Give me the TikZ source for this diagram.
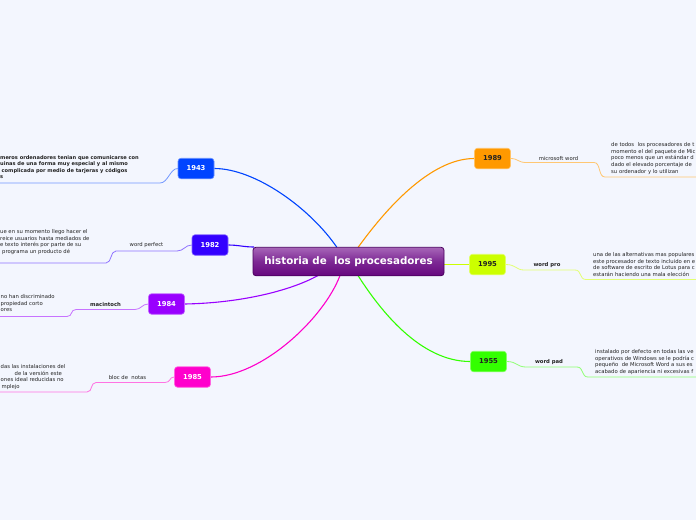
\documentclass[tikz,border=0pt]{standalone}
\usepackage{fontspec}
\setmainfont{DejaVu Sans}
\usetikzlibrary{calc}
\definecolor{bgc}{HTML}{F3F6FE}
\definecolor{cA}{HTML}{0044FF}
\definecolor{cB}{HTML}{3300FF}
\definecolor{cC}{HTML}{9900FF}
\definecolor{cD}{HTML}{FF00CC}
\definecolor{cE}{HTML}{FF9900}
\definecolor{cF}{HTML}{CCFF00}
\definecolor{cG}{HTML}{33FF00}
\definecolor{ctop}{HTML}{A766B8}
\definecolor{cmid}{HTML}{7D2894}
\definecolor{cbot}{HTML}{66077E}
\definecolor{cbord}{HTML}{4A005E}
\definecolor{txt}{HTML}{222222}
\pgfdeclarelayer{back}
\pgfdeclarelayer{edges}
\pgfsetlayers{back,edges,main}
\tikzset{
  yearbox/.style={rounded corners=3pt, minimum width=36pt, minimum height=20.5pt, inner sep=0pt,
    font=\fontsize{6.8}{8}\selectfont\bfseries, draw=#1!60!white, fill=#1, line width=0.6pt},
  lbl/.style={font=\fontsize{5.3}{6.5}\selectfont, text=txt, inner sep=0pt},
  blbl/.style={font=\fontsize{5.3}{6.5}\selectfont\bfseries, text=txt, inner sep=0pt},
  tblock/.style={font=\fontsize{5.3}{6.6}\selectfont, text=txt, inner sep=0pt, align=left, anchor=north west},
  mainedge/.style={draw=#1, line width=1.1pt},
  subedge/.style={draw=#1!55!white, line width=0.8pt},
}
\begin{document}
\begin{tikzpicture}[x=1pt,y=-1pt]
\begin{pgfonlayer}{back}
\fill[bgc] (0,0) rectangle (696,520);
\end{pgfonlayer}
\useasboundingbox (0,0) rectangle (696,520);
\clip (0,0) rectangle (696,520);

% central node
\node[rounded corners=3pt, draw=cbord, line width=0.8pt, top color=ctop, bottom color=cbot, middle color=cmid,
  minimum width=191pt, minimum height=28.5pt, inner sep=0pt, text=white,
  font=\fontsize{10.3}{12}\selectfont\bfseries] (c) at (348.5,261.5) {historia de\ \ los procesadores};

% year boxes
\node[yearbox=cA, text=white] (n43) at (196,168.5) {1943};
\node[yearbox=cB, text=white] (n82) at (210,245) {1982};
\node[yearbox=cC, text=white] (n84) at (166.5,304) {1984};
\node[yearbox=cD, text=white] (n85) at (192.5,377) {1985};
\node[yearbox=cE, text=txt] (n89) at (492.5,158.5) {1989};
\node[yearbox=cF, text=txt] (n95) at (487.5,264.5) {1995};
\node[yearbox=cG, text=txt] (n55) at (488.5,361.5) {1955};

% labels
\node[lbl] (l82) at (146.5,245.5) {word perfect};
\node[blbl] (l84) at (105.5,304.5) {macintoch};
\node[lbl] (l85) at (127.5,377.5) {bloc de\ \ notas};
\node[lbl] (l89) at (558.5,158.5) {microsoft word};
\node[blbl] (l95) at (547,265.5) {word pro};
\node[blbl] (l55) at (549,362.5) {word pad};

% text blocks
\node[tblock, font=\fontsize{5.1}{6.4}\selectfont\bfseries] (t43) at (0,155.2)
  {meros ordenadores tenian que comunicarse con\\uinas de una forma muy especial y al mismo\\\hspace*{1.5pt}complicada por medio de tarjeras y códigos\\s};
\node[tblock] (t82) at (0,229.3)
  {ue en su momento llego hacer el\\reice usuarios hasta mediados de\\e texto interés por parte de su\\\hspace*{2pt}programa un producto dé};
\node[tblock] (t84) at (0.5,294.4)
  {no han discriminado\\propiedad corto\\ores};
\node[tblock] (t85) at (0.5,364.4)
  {das las instalaciones del\\\hspace*{14pt}de la versión este\\ones ideal reducidas no\\\hspace*{1pt}mplejo};
\node[tblock] (t89) at (611,142.4)
  {de todos\ \ los procesadores de t\\momento el del paquete de Mic\\poco menos que un estándar d\\dado el elevado porcentaje de\\su ordenador y lo utilizan};
\node[tblock] (t95) at (593,252.4)
  {una de las alternativas mas populares\\este procesador de texto incluido en e\\de software de escrito de Lotus para c\\estarán haciendo una mala elección};
\node[tblock] (t55) at (595,349.4)
  {instalado por defecto en todas las ve\\operativos de Windows se le podría c\\pequeño\ \ de Microsoft Word a sus es\\acabado de apariencia ni excesivas f};

% anchor coordinates on central node edge
\coordinate (e43) at (337,247.5);
\coordinate (e82) at (254,247);
\coordinate (e84) at (318,275.5);
\coordinate (e85) at (340,275.5);
\coordinate (e89) at (358,247.5);
\coordinate (e55) at (358,275.5);

% underline coordinates
\coordinate (u43a) at (160,183); \coordinate (u43b) at (0,183);
\coordinate (u82a) at (177,251); \coordinate (u82b) at (116,251); \coordinate (u82c) at (106,263); \coordinate (u82d) at (0,263);
\coordinate (u84a) at (135,309.5); \coordinate (u84b) at (76,309.5); \coordinate (u84c) at (67,316.5); \coordinate (u84d) at (0,316.5);
\coordinate (u85a) at (165,382.5); \coordinate (u85b) at (96,382.5); \coordinate (u85c) at (87,392); \coordinate (u85d) at (0,392);
\coordinate (u89a) at (526,162.5); \coordinate (u89b) at (594,162.5); \coordinate (u89c) at (605,177); \coordinate (u89d) at (696,177);
\coordinate (u95a) at (524,270); \coordinate (u95b) at (575,270); \coordinate (u95c) at (586,279.5); \coordinate (u95d) at (696,279.5);
\coordinate (u55a) at (526,367); \coordinate (u55b) at (577,367); \coordinate (u55c) at (588,377); \coordinate (u55d) at (696,377);

\begin{pgfonlayer}{edges}
% main connectors
\draw[mainedge=cA] (e43) .. controls (310,208) and (255,168.5) .. (n43.east);
\draw[mainedge=cB] (n82.east) .. controls (238,245) and (244,247) .. (e82);
\draw[mainedge=cC] (n84.east) .. controls (240,303) and (290,291) .. (e84);
\draw[mainedge=cD] (n85.east) .. controls (262,377) and (324,318) .. (e85);
\draw[mainedge=cE] (e89) .. controls (385,210) and (430,158.5) .. (n89.west);
\draw[mainedge=cF] (n95.west) -- (n95.west -| c.east);
\draw[mainedge=cG] (e55) .. controls (380,310) and (420,361.5) .. (n55.west);

% sub connectors
\draw[subedge=cA] (n43.west) .. controls (170,168.5) and (168,183) .. (u43a) -- (u43b);
\draw[subedge=cB] (n82.west) .. controls (185,245) and (184,251) .. (u82a) -- (u82b) .. controls (110,251) and (112,263) .. (u82c) -- (u82d);
\draw[subedge=cC] (n84.west) .. controls (142,304) and (141,309.5) .. (u84a) -- (u84b) .. controls (70,309.5) and (73,316.5) .. (u84c) -- (u84d);
\draw[subedge=cD] (n85.west) .. controls (169,377) and (171,382.5) .. (u85a) -- (u85b) .. controls (90,382.5) and (93,392) .. (u85c) -- (u85d);
\draw[subedge=cE] (n89.east) .. controls (518,158.5) and (518,162.5) .. (u89a) -- (u89b) .. controls (601,162.5) and (598,177) .. (u89c) -- (u89d);
\draw[subedge=cF] (n95.east) .. controls (516,264.5) and (516,270) .. (u95a) -- (u95b) .. controls (582,270) and (579,279.5) .. (u95c) -- (u95d);
\draw[subedge=cG] (n55.east) .. controls (517,361.5) and (517,367) .. (u55a) -- (u55b) .. controls (584,367) and (581,377) .. (u55c) -- (u55d);
\end{pgfonlayer}
\end{tikzpicture}
\end{document}
